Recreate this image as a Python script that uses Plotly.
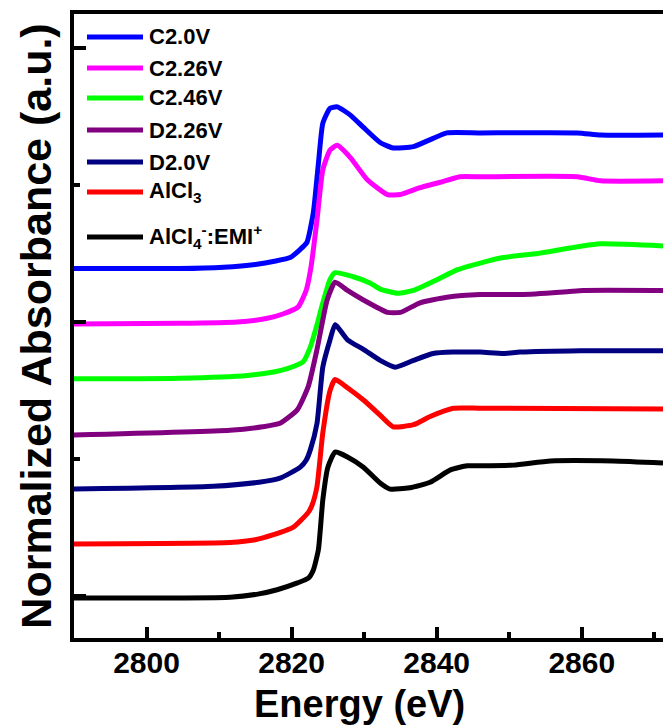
import plotly.graph_objects as go

# ---- data (energy in eV, stacked normalized absorbance) ----
series_names = ["C2.0V", "C2.26V", "C2.46V", "D2.26V", "D2.0V", "AlCl3", "AlCl4-:EMI+"]
legend_labels = ["C2.0V", "C2.26V", "C2.46V", "D2.26V", "D2.0V",
                 "AlCl<sub>3</sub>", "AlCl<sub>4</sub><sup>-</sup>:EMI<sup>+</sup>"]
colors = ["#0000FF", "#FF00FF", "#00FF00", "#800080", "#000080", "#FF0000", "#000000"]

e_c20 = [2790.0, 2804.6, 2810.6, 2815.0, 2817.8, 2819.8, 2821.2, 2822.1, 2823.0, 2823.7, 2824.3, 2825.3,
         2826.3, 2828.1, 2829.9, 2832.2, 2834.0, 2836.8, 2839.5, 2841.4, 2846.0, 2859.4, 2862.6, 2871.2]
a_c20 = [2.39, 2.39, 2.40, 2.42, 2.445, 2.47, 2.53, 2.58, 2.80, 3.16, 3.45, 3.56,
         3.57, 3.51, 3.42, 3.31, 3.27, 3.28, 3.34, 3.38, 3.38, 3.38, 3.365, 3.365]

e_c226 = [2790.0, 2804.6, 2812.5, 2816.5, 2818.9, 2820.9, 2822.0, 2822.7, 2823.5, 2824.3, 2825.3, 2826.3,
          2828.1, 2830.4, 2833.2, 2835.0, 2837.7, 2840.5, 2843.2, 2846.0, 2859.4, 2862.6, 2871.2]
a_c226 = [1.985, 1.99, 2.00, 2.025, 2.06, 2.11, 2.23, 2.41, 2.745, 3.11, 3.255, 3.29,
          3.20, 3.04, 2.93, 2.93, 2.98, 3.02, 3.06, 3.06, 3.06, 3.03, 3.03]

e_c246 = [2790.0, 2804.6, 2813.9, 2817.5, 2819.4, 2821.6, 2822.6, 2823.5, 2824.2, 2825.3, 2826.0, 2828.5,
          2830.8, 2832.2, 2834.6, 2836.8, 2840.1, 2842.8, 2846.0, 2849.2, 2853.9, 2858.4, 2862.6, 2871.2]
a_c246 = [1.585, 1.59, 1.61, 1.635, 1.66, 1.71, 1.82, 1.98, 2.12, 2.31, 2.36, 2.33,
          2.285, 2.24, 2.21, 2.23, 2.31, 2.38, 2.43, 2.47, 2.50, 2.54, 2.57, 2.555]

e_d226 = [2790.0, 2811.5, 2816.0, 2818.4, 2820.8, 2822.3, 2823.5, 2824.3, 2824.9, 2826.0, 2827.7,
          2829.9, 2833.2, 2835.0, 2837.7, 2841.4, 2846.0, 2851.9, 2858.0, 2860.2, 2871.2]
a_d226 = [1.175, 1.21, 1.235, 1.26, 1.36, 1.53, 1.80, 2.015, 2.16, 2.29, 2.23,
          2.16, 2.07, 2.07, 2.14, 2.18, 2.20, 2.20, 2.22, 2.23, 2.23]

e_d20 = [2790.0, 2809.2, 2815.5, 2818.4, 2821.2, 2822.0, 2822.6, 2823.5, 2824.3, 2825.3, 2826.0, 2827.7,
         2829.9, 2832.2, 2834.3, 2836.8, 2839.5, 2842.3, 2846.0, 2849.2, 2851.5, 2859.8, 2871.2]
a_d20 = [0.78, 0.80, 0.83, 0.86, 0.94, 0.99, 1.07, 1.26, 1.67, 1.87, 1.98, 1.87,
         1.80, 1.72, 1.67, 1.72, 1.77, 1.78, 1.78, 1.77, 1.78, 1.79, 1.79]

e_alcl3 = [2790.0, 2811.5, 2815.0, 2817.4, 2820.2, 2822.3, 2822.8, 2823.5, 2824.3, 2825.3, 2826.0,
           2827.7, 2829.9, 2832.2, 2834.0, 2836.8, 2839.1, 2842.3, 2846.0, 2871.2]
a_alcl3 = [0.38, 0.39, 0.41, 0.445, 0.50, 0.61, 0.66, 0.80, 1.19, 1.50, 1.58,
           1.52, 1.43, 1.32, 1.235, 1.25, 1.31, 1.37, 1.37, 1.365]

e_emi = [2790.0, 2811.5, 2815.5, 2818.0, 2820.8, 2822.3, 2823.0, 2823.7, 2824.3, 2825.0, 2826.0, 2827.7,
         2829.9, 2832.2, 2833.6, 2836.3, 2839.1, 2841.9, 2844.2, 2846.0, 2850.6, 2855.7, 2864.3, 2871.2]
a_emi = [-0.015, -0.01, 0.015, 0.045, 0.095, 0.13, 0.19, 0.34, 0.70, 0.94, 1.05, 1.015,
         0.94, 0.825, 0.78, 0.79, 0.83, 0.92, 0.95, 0.95, 0.955, 0.985, 0.985, 0.97]

energies = [e_c20, e_c226, e_c246, e_d226, e_d20, e_alcl3, e_emi]
absorb = [a_c20, a_c226, a_c246, a_d226, a_d20, a_alcl3, a_emi]

x_ticks = [2800, 2820, 2840, 2860]

FONT = "Liberation Sans, Arial, sans-serif"

fig = go.Figure()
for name, e, a, c in zip(series_names, energies, absorb, colors):
    fig.add_trace(go.Scatter(x=e, y=a, mode="lines", name=name,
                             line=dict(color=c, width=5, shape="spline", smoothing=0.5),
                             showlegend=False))

# manual legend (paper coordinates)
leg_rows = [37, 68, 98, 130, 162, 192, 237]  # pixel rows in the figure
W, H = 663, 725
L, R, T, B = 74, 0, 14, 87
pw, ph = W - L - R, H - T - B
def px2paper_x(px):
    return (px - L) / pw
def px2paper_y(py):
    return (H - B - py) / ph

for lab, c, row in zip(legend_labels, colors, leg_rows):
    yp = px2paper_y(row)
    fig.add_shape(type="line", xref="paper", yref="paper",
                  x0=px2paper_x(87), x1=px2paper_x(143), y0=yp, y1=yp,
                  line=dict(color=c, width=5))
    fig.add_annotation(xref="paper", yref="paper", x=px2paper_x(147), y=yp,
                       text="<b>" + lab + "</b>", showarrow=False,
                       xanchor="left", yanchor="middle",
                       font=dict(family=FONT, size=22, color="black"))

# x-axis title as an annotation anchored to the bottom of the figure
fig.add_annotation(xref="paper", yref="paper", x=px2paper_x(359), y=px2paper_y(727),
                   text="<b>Energy (eV)</b>", showarrow=False,
                   xanchor="center", yanchor="bottom",
                   font=dict(family=FONT, size=38, color="black"))

fig.update_layout(
    width=W, height=H,
    margin=dict(l=L, r=R, t=T, b=B),
    plot_bgcolor="white", paper_bgcolor="white",
    font=dict(family=FONT, color="black"),
)
fig.update_xaxes(
    range=[2790, 2871.2], showgrid=False, zeroline=False,
    showline=True, linecolor="black", linewidth=4, mirror=True,
    ticks="inside", ticklen=11, tickwidth=4, tickcolor="black",
    tickvals=x_ticks, ticktext=[f"<b>{v}</b>" for v in x_ticks],
    tickfont=dict(family=FONT, size=30, color="black"),
    ticklabelstandoff=-5,
    minor=dict(dtick=10, tick0=2790, ticks="inside", ticklen=6, tickwidth=4, tickcolor="black"),
)
fig.update_yaxes(
    range=[-0.307, 4.248], showgrid=False, zeroline=False,
    showline=True, linecolor="black", linewidth=4, mirror=False,
    ticks="inside", ticklen=12, tickwidth=4, tickcolor="black",
    tick0=0, dtick=2, showticklabels=False,
    minor=dict(dtick=1, tick0=0, ticks="inside", ticklen=6, tickwidth=4, tickcolor="black"),
    title=dict(text="<b>Normalized Absorbance (a.u.)</b>", font=dict(family=FONT, size=43, color="black"), standoff=6),
)

fig.write_html("out.html")
